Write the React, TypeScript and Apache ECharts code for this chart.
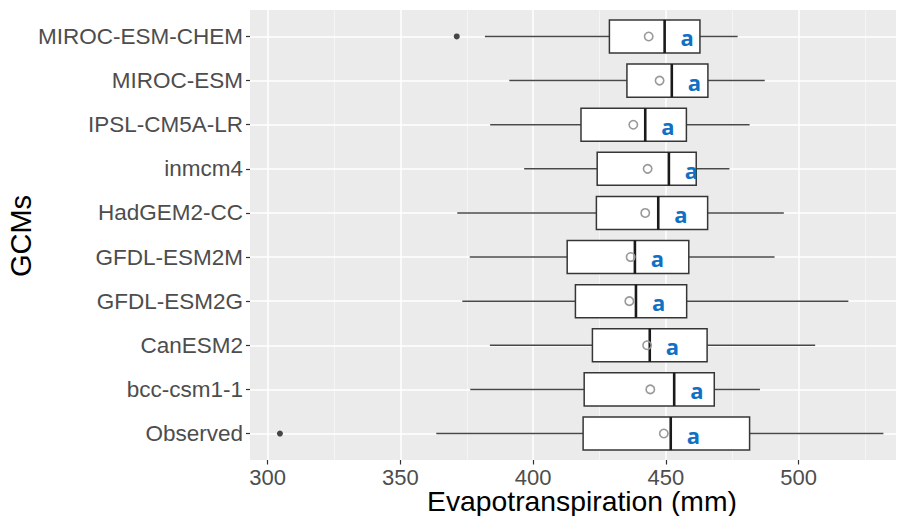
import React, { useEffect, useRef } from "react";
import * as echarts from "echarts";

// ---- data ----
const categories = [
  "Observed",
  "bcc-csm1-1",
  "CanESM2",
  "GFDL-ESM2G",
  "GFDL-ESM2M",
  "HadGEM2-CC",
  "inmcm4",
  "IPSL-CM5A-LR",
  "MIROC-ESM",
  "MIROC-ESM-CHEM",
];
const lowerWhisker = [363.5, 376.3, 383.7, 373.3, 376.1, 371.4, 396.6, 383.8, 391.0, 381.8];
const q1 = [418.8, 419.2, 422.3, 415.9, 412.8, 423.8, 424.1, 418.0, 435.3, 428.7];
const median = [451.8, 453.1, 443.9, 438.7, 438.3, 447.1, 451.1, 442.2, 452.2, 449.5];
const q3 = [481.5, 468.2, 465.5, 457.8, 458.6, 465.7, 461.4, 457.7, 465.8, 462.8];
const upperWhisker = [531.9, 485.4, 506.2, 518.7, 490.9, 494.4, 473.9, 481.5, 487.2, 477.0];
const means = [449.2, 444.1, 442.9, 436.2, 436.7, 442.2, 443.1, 437.7, 447.6, 443.5];
const groupLetters = ["a", "a", "a", "a", "a", "a", "a", "a", "a", "a"];
const outlierCategories = ["Observed", "MIROC-ESM-CHEM"];
const outlierValues = [304.6, 371.2];
const xTicks = [300, 350, 400, 450, 500];
const xTitle = "Evapotranspiration (mm)";
const yTitle = "GCMs";

// ---- layout ----
const W = 904;
const H = 516;
const PANEL_L = 250;
const PANEL_R = 904;
const PANEL_T = 10;
const PANEL_B = 460;
const X_MIN = 293.33; // value at panel left edge
const X_MAX = 539.66; // value at panel right edge
const K = (PANEL_R - PANEL_L) / (X_MAX - X_MIN); // px per unit
const GRID0_MIN = 300;
const GRID0_MAX = 550;
const grid0Left = PANEL_L + (GRID0_MIN - X_MIN) * K;
const grid0Width = (GRID0_MAX - GRID0_MIN) * K;
const n = categories.length;
const band = (PANEL_B - PANEL_T) / (n - 1 + 1.2);
const catTop = PANEL_T + 0.6 * band;
const catHeight = (n - 1) * band;

const FONT = "'Liberation Sans', Arial, Helvetica, sans-serif";
const LETTER_FONT = "'Open Sans', 'Noto Sans', sans-serif";

export default function App() {
  const ref = useRef<HTMLDivElement>(null);
  useEffect(() => {
    if (!ref.current) return;
    const chart = echarts.init(ref.current, undefined, { renderer: "svg" });
    const boxData = categories.map((_, i) => [
      i,
      lowerWhisker[i],
      q1[i],
      median[i],
      q3[i],
      upperWhisker[i],
      means[i],
    ]);
    const option: any = {
      animation: false,
      backgroundColor: "#ffffff",
      textStyle: { fontFamily: FONT },
      graphic: [
        {
          type: "rect",
          z: -1,
          silent: true,
          shape: { x: PANEL_L, y: PANEL_T, width: PANEL_R - PANEL_L, height: PANEL_B - PANEL_T },
          style: { fill: "#EBEBEB" },
        },
        {
          type: "text",
          x: 582,
          y: 501,
          style: {
            text: xTitle,
            fill: "#000000",
            fontSize: 28.3,
            lineHeight: 24,
            fontFamily: FONT,
            align: "center",
            verticalAlign: "middle",
          },
        },
        {
          type: "text",
          x: 21,
          y: 236,
          rotation: Math.PI / 2,
          style: {
            text: yTitle,
            fill: "#000000",
            fontSize: 29,
            lineHeight: 26,
            fontFamily: FONT,
            align: "center",
            verticalAlign: "middle",
          },
        },
      ],
      grid: [
        {
          left: grid0Left,
          width: grid0Width,
          top: PANEL_T,
          height: PANEL_B - PANEL_T,
          containLabel: false,
          outerBoundsMode: "none",
        },
        {
          left: PANEL_L,
          width: PANEL_R - PANEL_L,
          top: catTop,
          height: catHeight,
          containLabel: false,
          outerBoundsMode: "none",
        },
      ],
      xAxis: [
        {
          type: "value",
          gridIndex: 0,
          min: GRID0_MIN,
          max: GRID0_MAX,
          interval: 50,
          z: 0,
          axisLine: { show: false },
          axisTick: {
            show: true,
            length: 4.5,
            customValues: xTicks,
            lineStyle: { color: "#333333", width: 1.2 },
          },
          axisLabel: {
            customValues: xTicks,
            fontSize: 22,
            lineHeight: 18,
            color: "#4D4D4D",
            margin: 8,
            fontFamily: FONT,
          },
          splitLine: { show: true, lineStyle: { color: "#FFFFFF", width: 1.5 } },
          minorTick: { show: false, splitNumber: 2 },
          minorSplitLine: { show: true, lineStyle: { color: "#F7F7F7", width: 0.8 } },
        },
        {
          type: "value",
          gridIndex: 1,
          min: X_MIN,
          max: X_MAX,
          show: false,
        },
      ],
      yAxis: [
        { type: "value", gridIndex: 0, show: false },
        {
          type: "category",
          gridIndex: 1,
          data: categories,
          boundaryGap: false,
          z: 1,
          axisLine: { show: false },
          axisTick: { show: true, length: 4, lineStyle: { color: "#333333", width: 1.2 } },
          axisLabel: { fontSize: 22.5, color: "#4D4D4D", margin: 7, fontFamily: FONT },
          splitLine: { show: true, lineStyle: { color: "#FFFFFF", width: 1.5 } },
        },
      ],
      series: [
        {
          type: "custom",
          xAxisIndex: 1,
          yAxisIndex: 1,
          clip: false,
          z: 3,
          encode: { x: [1, 2, 3, 4, 5, 6], y: 0 },
          data: boxData,
          renderItem: (params: any, api: any) => {
            const c = api.value(0);
            const pLow = api.coord([api.value(1), c]);
            const pQ1 = api.coord([api.value(2), c]);
            const pMed = api.coord([api.value(3), c]);
            const pQ3 = api.coord([api.value(4), c]);
            const pHigh = api.coord([api.value(5), c]);
            const pMean = api.coord([api.value(6), c]);
            const bw = api.size([0, 1])[1] * 0.75;
            const yc = pMed[1];
            const lineColor = "#363636";
            return {
              type: "group",
              children: [
                {
                  type: "line",
                  shape: { x1: pLow[0], y1: yc, x2: pQ1[0], y2: yc },
                  style: { stroke: "#484848", lineWidth: 1.5 },
                },
                {
                  type: "line",
                  shape: { x1: pQ3[0], y1: yc, x2: pHigh[0], y2: yc },
                  style: { stroke: "#484848", lineWidth: 1.5 },
                },
                {
                  type: "rect",
                  shape: { x: pQ1[0], y: yc - bw / 2, width: pQ3[0] - pQ1[0], height: bw },
                  style: { fill: "#FFFFFF", stroke: lineColor, lineWidth: 1.5 },
                },
                {
                  type: "line",
                  shape: { x1: pMed[0], y1: yc - bw / 2, x2: pMed[0], y2: yc + bw / 2 },
                  style: { stroke: "#1A1A1A", lineWidth: 2.6 },
                },
                {
                  type: "circle",
                  shape: { cx: pMean[0], cy: yc, r: 4.2 },
                  style: { fill: "none", stroke: "#999999", lineWidth: 1.6 },
                },
                {
                  type: "text",
                  style: {
                    x: pMed[0] + 22.6,
                    y: yc + 1,
                    text: groupLetters[params.dataIndex],
                    fill: "#1070C4",
                    fontSize: 22,
                    fontWeight: "bold",
                    fontFamily: LETTER_FONT,
                    align: "center",
                    verticalAlign: "middle",
                  },
                },
              ],
            };
          },
        },
        {
          type: "scatter",
          xAxisIndex: 1,
          yAxisIndex: 1,
          symbol: "circle",
          symbolSize: 6,
          itemStyle: { color: "#1A1A1A" },
          z: 4,
          data: outlierValues.map((v, i) => [v, outlierCategories[i]]),
        },
      ],
    };
    chart.setOption(option);
    return () => chart.dispose();
  }, []);
  return <div ref={ref} style={{ width: W, height: H, marginLeft: -8, marginTop: -8 }} />;
}
